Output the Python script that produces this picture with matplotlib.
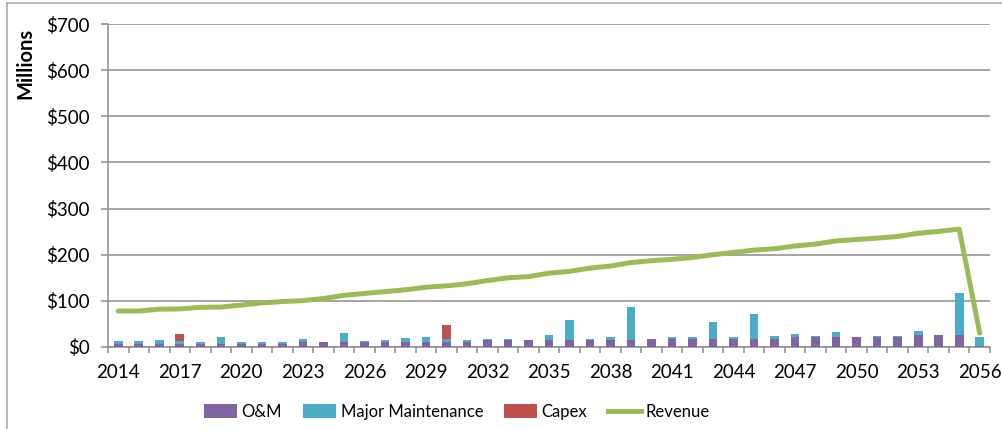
import matplotlib
matplotlib.use("Agg")
import matplotlib.pyplot as plt
from matplotlib.lines import Line2D
from matplotlib.patches import Patch
import numpy as np

years = list(range(2014, 2057))
om = [7, 7, 7, 7, 7, 7, 7, 7, 7, 10.5, 10.5, 10.5, 10.5, 10, 10, 10, 10, 10,
      14.5, 14.5, 14.5, 14.5, 14.5, 14.5, 14.5, 14.5, 18, 18, 17, 17, 17, 17, 17,
      21.5, 21.5, 21.5, 21.5, 21.5, 21.5, 25, 25, 25, 3]
major_maint = [5, 5, 8, 7, 4, 15, 4, 4, 4, 7, 0.5, 19, 3.5, 4.5, 8.5, 12.5, 8, 4.5,
               3.5, 3.5, 0, 10.5, 43.5, 3.5, 7.5, 72.5, 0, 4, 4.5, 36.5, 4.5, 54, 7,
               7, 2.5, 10.5, 0, 2.5, 2.5, 10.7, 0, 93, 18.5]
capex = [0, 0, 0, 14.5, 0, 0, 0, 0, 0, 0, 0, 0, 0, 0, 0, 0, 29.5, 0,
         0, 0, 0, 0, 0, 0, 0, 0, 0, 0, 0, 0, 0, 0, 0,
         0, 0, 0, 0, 0, 0, 0, 0, 0, 0]
revenue = [78, 78, 82, 82.5, 86, 86.5, 91, 95.5, 98.5, 100.5, 105, 112, 116, 120,
           124, 129.5, 132.5, 137, 144, 150, 152.5, 160, 164, 171, 175.5, 183, 187,
           190, 194, 200, 205, 210, 213, 219, 223, 230, 233, 236, 239.5, 246.5,
           250.5, 255.5, 30]
y_ticks = [0, 100, 200, 300, 400, 500, 600, 700]
y_labels = ["$0", "$100", "$200", "$300", "$400", "$500", "$600", "$700"]
series_names = ["O&M", "Major Maintenance", "Capex", "Revenue"]

C_OM = "#8064A2"
C_MM = "#4BACC6"
C_CAP = "#C0504D"
C_REV = "#9BBB59"
GRID = "#8C8C8C"

plt.rcParams['font.family'] = ['Lato', 'DejaVu Sans']

W, H = 1002, 429
fig = plt.figure(figsize=(W / 100, H / 100), dpi=100)
ax = fig.add_axes([108 / W, 1 - 347 / H, (990 - 108) / W, (347 - 24) / H])

x = np.arange(len(years))
om_a = np.array(om)
mm_a = np.array(major_maint)
cap_a = np.array(capex)
bw = 0.42
ax.bar(x, om_a, bw, color=C_OM, zorder=3)
ax.bar(x, mm_a, bw, bottom=om_a, color=C_MM, zorder=3)
ax.bar(x, cap_a, bw, bottom=om_a + mm_a, color=C_CAP, zorder=3)
ax.plot(x, revenue, color=C_REV, lw=3.6, solid_joinstyle='round',
        solid_capstyle='round', zorder=4)

ax.set_xlim(-0.5, len(years) - 0.5)
ax.set_ylim(0, 700)
ax.set_yticks(y_ticks)
ax.set_yticklabels(y_labels)
ax.yaxis.grid(True, color=GRID, lw=1.1, zorder=0)
ax.set_axisbelow(True)

label_idx = [i for i, yv in enumerate(years) if (yv - 2014) % 3 == 0]
ax.set_xticks(label_idx)
ax.set_xticklabels([str(years[i]) for i in label_idx])
ax.set_xticks(np.arange(-0.5, len(years) + 0.5, 1), minor=True)
ax.tick_params(axis='x', which='major', length=0, pad=12, labelsize=13.5,
               colors='black')
ax.tick_params(axis='x', which='minor', length=4.5, width=1.1, color=GRID,
               direction='out')
ax.tick_params(axis='y', which='major', length=5, width=1.1, color=GRID,
               pad=8, labelsize=13.5, direction='out')

for s in ['top', 'right']:
    ax.spines[s].set_visible(False)
for s in ['left', 'bottom']:
    ax.spines[s].set_color(GRID)
    ax.spines[s].set_linewidth(1.1)

fig.text(25 / W, 1 - 63 / H, "Millions", rotation=90, ha='center', va='center',
         fontsize=14.5, fontweight='bold')

handles = [Patch(facecolor=C_OM), Patch(facecolor=C_MM), Patch(facecolor=C_CAP),
           Line2D([0], [0], color=C_REV, lw=3.6)]
fig.legend(handles, series_names, loc='center', ncol=4,
           bbox_to_anchor=(457 / W, 1 - 412 / H), frameon=False,
           fontsize=12, handlelength=1.95, handleheight=0.9,
           handletextpad=0.3, columnspacing=1.25)

# chart area border (left and top visible)
bc = "#A6A6A6"
fig.add_artist(Line2D([7 / W, 7 / W], [0, 1 - 3.3 / H], color=bc, lw=1.1))
fig.add_artist(Line2D([7 / W, 1], [1 - 3.3 / H, 1 - 3.3 / H], color=bc, lw=1.1))

fig.savefig("out.png", dpi=100)
